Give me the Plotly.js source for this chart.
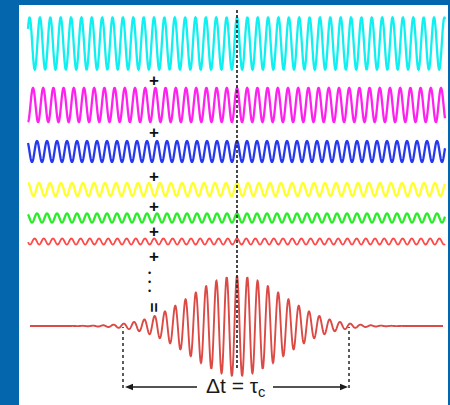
<!DOCTYPE html>
<html>
<head>
<meta charset="utf-8">
<script src="https://cdn.plot.ly/plotly-3.0.1.min.js"></script>
<style>html,body{margin:0;padding:0;background:#fff;}#chart{width:450px;height:405px;}</style>
</head>
<body>
<div id="chart"></div>
<script>
// ---- data ----
const waveNames = ['cyan', 'magenta', 'blue', 'yellow', 'green', 'red'];
const waveAmplitudes = [26, 17, 10.5, 6.5, 4.5, 3];          // half peak-to-peak
const wavePeriods = [10.37, 10.2, 10.0, 11.0, 10.0, 9.2];     // carrier period (time units)
const waveColors = ['#10f0f0', '#ff22ee', '#2638f0', '#ffff2a', '#28ee28', '#ff4848'];
const packetPeak = 50;          // envelope maximum
const packetWidth = 46;         // gaussian envelope sigma
const packetPeriod = 10.3;      // carrier period of the packet
const timeSpan = [-209, 208];
const packetSpan = [-207, 206];
const signLabels = ['+', '+', '+', '+', '+', '+'];
const spanLabel = 'Δt = τ<sub>c</sub>';
const coherenceEdges = [-114, 112];

// ---- layout helpers (pixel positions) ----
const W = 450, H = 405;
const rowCenters = [43.5, 105, 151.5, 189.5, 218, 241.5, 326];
const rowHalf = [31, 21, 14, 10, 8, 6, 55];
const py = p => 1 - p / H;
const px = p => p / W;

function sample(span, step, f) {
  const xs = [], ys = [];
  for (let t = span[0]; t <= span[1] + 1e-9; t += step) { xs.push(t); ys.push(f(t)); }
  return {xs, ys};
}

const traces = [];
const layout = {
  width: W, height: H,
  margin: {l: 0, r: 0, t: 0, b: 0},
  paper_bgcolor: '#ffffff', plot_bgcolor: 'rgba(0,0,0,0)',
  showlegend: false,
  xaxis: {range: [-237, 213], visible: false, fixedrange: true, domain: [0, 1]},
  shapes: [], annotations: []
};

waveNames.forEach((name, i) => {
  const s = sample(timeSpan, 0.25, t => waveAmplitudes[i] * Math.cos(2 * Math.PI * t / wavePeriods[i]));
  const ax = 'y' + (i === 0 ? '' : (i + 1));
  traces.push({x: s.xs, y: s.ys, type: 'scatter', mode: 'lines', name: name,
    xaxis: 'x', yaxis: ax, line: {color: waveColors[i], width: i === 5 ? 1.8 : 2.3, simplify: false}, hoverinfo: 'skip'});
});
{
  const s = sample(packetSpan, 0.25, t => packetPeak * Math.exp(-t * t / (2 * packetWidth * packetWidth)) * Math.cos(2 * Math.PI * t / packetPeriod));
  traces.push({x: s.xs, y: s.ys, type: 'scatter', mode: 'lines', name: 'packet',
    xaxis: 'x', yaxis: 'y7', line: {color: '#dc4a46', width: 1.9, simplify: false}, hoverinfo: 'skip'});
}

rowCenters.forEach((c, i) => {
  const key = 'yaxis' + (i === 0 ? '' : (i + 1));
  layout[key] = {
    domain: [py(c + rowHalf[i]), py(c - rowHalf[i])],
    range: [-rowHalf[i], rowHalf[i]],
    visible: false, fixedrange: true, anchor: 'x'
  };
});

// blue frame
const frame = '#0467ad';
layout.shapes.push({type: 'rect', xref: 'paper', yref: 'paper', x0: 0, x1: px(19), y0: 0, y1: 1, fillcolor: frame, line: {width: 0}, layer: 'above'});
layout.shapes.push({type: 'rect', xref: 'paper', yref: 'paper', x0: 0, x1: 1, y0: py(5), y1: 1, fillcolor: frame, line: {width: 0}, layer: 'above'});
layout.shapes.push({type: 'rect', xref: 'paper', yref: 'paper', x0: px(448), x1: 1, y0: 0, y1: 1, fillcolor: frame, line: {width: 0}, layer: 'above'});

// central dashed line
layout.shapes.push({type: 'line', xref: 'x', yref: 'paper', x0: 0, x1: 0, y0: py(368), y1: py(10),
  line: {color: '#2a2a2a', width: 1.7, dash: '3px,2px'}, layer: 'above'});
// coherence-time dotted edges
coherenceEdges.forEach(e => {
  layout.shapes.push({type: 'line', xref: 'x', yref: 'paper', x0: e, x1: e, y0: py(388), y1: py(327),
    line: {color: '#333', width: 1.6, dash: 'dot'}, layer: 'above'});
});

// plus signs
const plusY = [80, 132, 176, 207, 231, 256];
signLabels.forEach((s, i) => {
  layout.annotations.push({xref: 'paper', yref: 'paper', x: px(154), y: py(plusY[i]), text: '<b>' + s + '</b>',
    showarrow: false, font: {size: 17, color: '#111', family: 'Liberation Sans, Arial'}, xanchor: 'center', yanchor: 'middle'});
});
// vertical dots
[273, 282, 291].forEach(yv => {
  layout.annotations.push({xref: 'paper', yref: 'paper', x: px(149), y: py(yv), text: '•',
    showarrow: false, font: {size: 9, color: '#111', family: 'Liberation Sans, Arial'}, xanchor: 'center', yanchor: 'middle'});
});
// rotated equals
layout.annotations.push({xref: 'paper', yref: 'paper', x: px(153.5), y: py(307), text: '<b>=</b>', textangle: 90,
  showarrow: false, font: {size: 17, color: '#111', family: 'Liberation Sans, Arial'}, xanchor: 'center', yanchor: 'middle'});

// arrow label
layout.annotations.push({xref: 'paper', yref: 'paper', x: px(235), y: py(387), text: spanLabel,
  showarrow: false, font: {size: 21, color: '#1a1a1a', family: 'Liberation Sans, Arial'}, xanchor: 'center', yanchor: 'middle'});

// arrows drawn as shapes
const arrowY = 387;
const leftHead = 237 + coherenceEdges[0] + 2, rightHead = 237 + coherenceEdges[1] - 1;
layout.shapes.push({type: 'line', xref: 'paper', yref: 'paper', x0: px(leftHead + 4), x1: px(197), y0: py(arrowY), y1: py(arrowY),
  line: {color: '#1a1a1a', width: 1.6}, layer: 'above'});
layout.shapes.push({type: 'line', xref: 'paper', yref: 'paper', x0: px(273), x1: px(rightHead - 4), y0: py(arrowY), y1: py(arrowY),
  line: {color: '#1a1a1a', width: 1.6}, layer: 'above'});
function head(xTip, dir) {
  const xb = xTip + dir * 8;
  return `M ${px(xTip)} ${py(arrowY)} L ${px(xb)} ${py(arrowY - 3.2)} L ${px(xb)} ${py(arrowY + 3.2)} Z`;
}
layout.shapes.push({type: 'path', xref: 'paper', yref: 'paper', path: head(leftHead, 1), fillcolor: '#1a1a1a', line: {width: 0}, layer: 'above'});
layout.shapes.push({type: 'path', xref: 'paper', yref: 'paper', path: head(rightHead, -1), fillcolor: '#1a1a1a', line: {width: 0}, layer: 'above'});

Plotly.newPlot('chart', traces, layout, {displayModeBar: false, staticPlot: true});
</script>
</body>
</html>
